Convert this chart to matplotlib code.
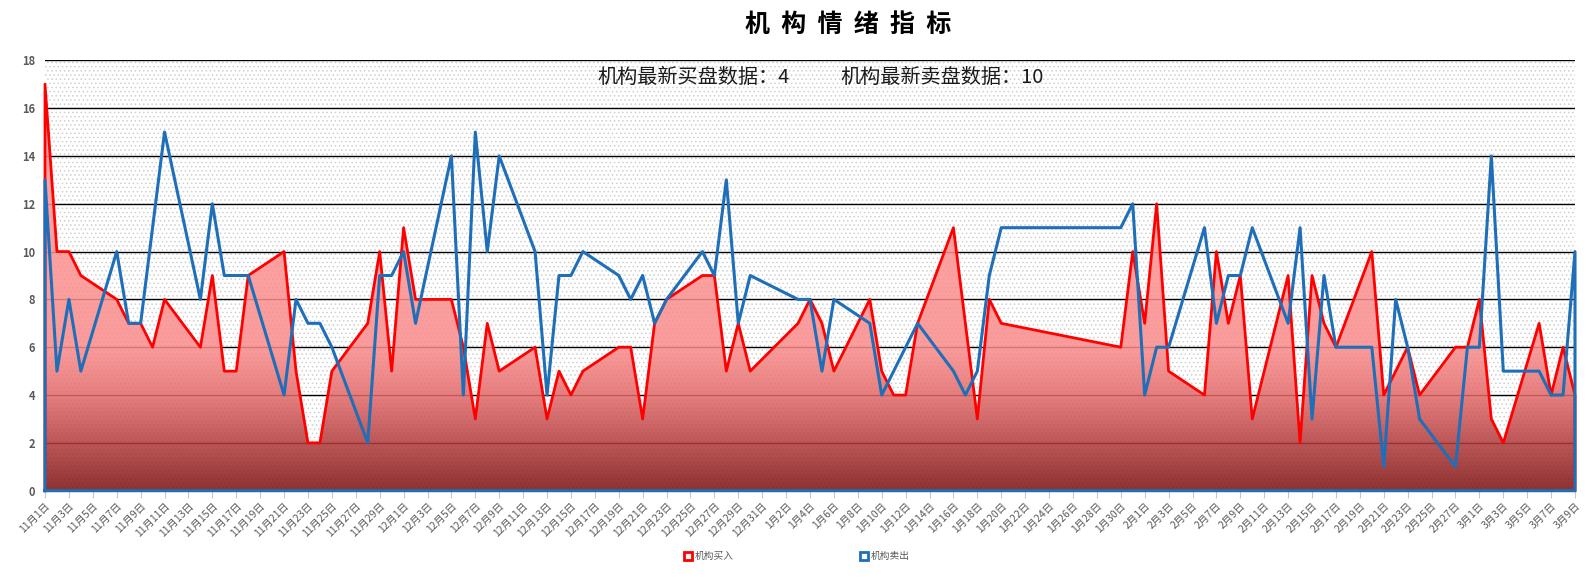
import matplotlib.pyplot as plt
import numpy as np
import pandas as pd
from matplotlib.colors import LinearSegmentedColormap
from matplotlib.lines import Line2D
from matplotlib.patches import Polygon, Rectangle

plt.rcParams["font.family"] = ["Noto Sans CJK SC", "DejaVu Sans"]
plt.rcParams["hatch.linewidth"] = 0.6

START = "2022-11-01"
END = "2023-03-09"

# trading days per month and the two series
nov_days = [1, 2, 3, 4, 7, 8, 9, 10, 11, 14, 15, 16, 17, 18, 21, 22, 23, 24, 25, 28, 29, 30]
nov_buy = [17, 10, 10, 9, 8, 7, 7, 6, 8, 6, 9, 5, 5, 9, 10, 5, 2, 2, 5, 7, 10, 5]
nov_sell = [13, 5, 8, 5, 10, 7, 7, 11, 15, 8, 12, 9, 9, 9, 4, 8, 7, 7, 6, 2, 9, 9]

dec_days = [1, 2, 5, 6, 7, 8, 9, 12, 13, 14, 15, 16, 19, 20, 21, 22, 23, 26, 27, 28, 29, 30]
dec_buy = [11, 8, 8, 6, 3, 7, 5, 6, 3, 5, 4, 5, 6, 6, 3, 7, 8, 9, 9, 5, 7, 5]
dec_sell = [10, 7, 14, 4, 15, 10, 14, 10, 4, 9, 9, 10, 9, 8, 9, 7, 8, 10, 9, 13, 7, 9]

jan_days = [3, 4, 5, 6, 9, 10, 11, 12, 13, 16, 17, 18, 19, 20, 30, 31]
jan_buy = [7, 8, 7, 5, 8, 5, 4, 4, 7, 11, 7, 3, 8, 7, 6, 10]
jan_sell = [8, 8, 5, 8, 7, 4, 5, 6, 7, 5, 4, 5, 9, 11, 11, 12]

feb_days = [1, 2, 3, 6, 7, 8, 9, 10, 13, 14, 15, 16, 17, 20, 21, 22, 23, 24, 27, 28]
feb_buy = [7, 12, 5, 4, 10, 7, 9, 3, 9, 2, 9, 7, 6, 10, 4, 5, 6, 4, 6, 6]
feb_sell = [4, 6, 6, 11, 7, 9, 9, 11, 7, 11, 3, 9, 6, 6, 1, 8, 6, 3, 1, 6]

mar_days = [1, 2, 3, 6, 7, 8, 9]
mar_buy = [8, 3, 2, 7, 4, 6, 4]
mar_sell = [6, 14, 5, 5, 4, 4, 10]

months = [
    (2022, 11, nov_days),
    (2022, 12, dec_days),
    (2023, 1, jan_days),
    (2023, 2, feb_days),
    (2023, 3, mar_days),
]
buy = np.array(nov_buy + dec_buy + jan_buy + feb_buy + mar_buy, dtype=float)
sell = np.array(nov_sell + dec_sell + jan_sell + feb_sell + mar_sell, dtype=float)

dates = pd.to_datetime([f"{y}-{m:02d}-{d:02d}" for y, m, days in months for d in days])
all_days = pd.date_range(START, END, freq="D")
x = np.asarray((dates - all_days[0]).days, dtype=float)
last = len(all_days) - 1

RED = "#ff0000"
BLUE = "#1f6fb8"

fig = plt.figure(figsize=(15.91, 5.8), dpi=100)
ax = fig.add_axes([45 / 1591, 89.3 / 580, 1530 / 1591, 430.4 / 580])

# dotted background
bg = Rectangle((0, 0), 1, 1, transform=ax.transAxes, facecolor="white",
               edgecolor="#d0d0d0", hatch="....", linewidth=0, zorder=0)
ax.add_patch(bg)

# gradient area for buy series
cmap = LinearSegmentedColormap.from_list(
    "buy_fill",
    [(0.0, "#7c1010"), (2 / 18, "#b33c3c"), (4 / 18, "#e36a6a"),
     (6 / 18, "#fa8c8c"), (1.0, "#ff9a9a")],
)
grad = np.linspace(0, 1, 256).reshape(-1, 1)
img = ax.imshow(grad, extent=(0, last, 0, 18), origin="lower", aspect="auto",
                cmap=cmap, alpha=0.86, zorder=2)
area = Polygon(np.column_stack([np.r_[x[0], x, x[-1]], np.r_[0, buy, 0]]),
               closed=True, transform=ax.transData, facecolor="none", edgecolor="none")
ax.add_patch(area)
img.set_clip_path(area)

ax.plot(np.r_[x[0], x, x[-1]], np.r_[0, buy, 0], color=RED, linewidth=2.0,
        zorder=4, clip_on=False)
ax.plot(np.r_[x[0], x, x[-1], x[0]], np.r_[0, sell, 0, 0], color=BLUE,
        linewidth=2.2, zorder=5, clip_on=False)

ax.set_xlim(0, last)
ax.set_ylim(0, 18)

ax.set_yticks(range(0, 19, 2))
ax.yaxis.grid(True, color="black", linewidth=1.0)
ax.set_axisbelow(True)
ax.tick_params(axis="y", length=0, labelsize=8, labelcolor="#595959", pad=7)
for lbl in ax.get_yticklabels():
    lbl.set_fontweight("bold")

tick_pos = list(range(0, len(all_days), 2))
ax.set_xticks(tick_pos)
ax.set_xticklabels([f"{all_days[i].month}月{all_days[i].day}日" for i in tick_pos],
                   rotation=45, ha="right", rotation_mode="anchor")
ax.tick_params(axis="x", length=5, color="#c8c8c8", labelsize=7.5,
               labelcolor="#595959", pad=2)

for side in ["left", "right", "top", "bottom"]:
    ax.spines[side].set_visible(False)

fig.text(848 / 1591, 1 - 25 / 580, "机  构  情  绪  指  标", ha="center", va="center",
         fontsize=18, fontweight="bold", color="black")
fig.text(597 / 1591, 1 - 77.5 / 580, f"机构最新买盘数据：{int(buy[-1])}",
         ha="left", va="center", fontsize=14.5, color="#1a1a1a")
fig.text(840 / 1591, 1 - 77.5 / 580, f"机构最新卖盘数据：{int(sell[-1])}",
         ha="left", va="center", fontsize=14.5, color="#1a1a1a")

handles = [
    Line2D([], [], marker="s", linestyle="none", markersize=6,
           markerfacecolor="white", markeredgecolor=RED, markeredgewidth=2),
    Line2D([], [], marker="s", linestyle="none", markersize=6,
           markerfacecolor="white", markeredgecolor=BLUE, markeredgewidth=2),
]
fig.legend(handles, ["机构买入", "机构卖出"], loc="center",
           bbox_to_anchor=(797 / 1591, 1 - 556 / 580), ncol=2, frameon=False,
           fontsize=7, labelcolor="#595959", handlelength=0.8,
           handletextpad=0.3, columnspacing=13)

fig.savefig("out.png", dpi=100)
